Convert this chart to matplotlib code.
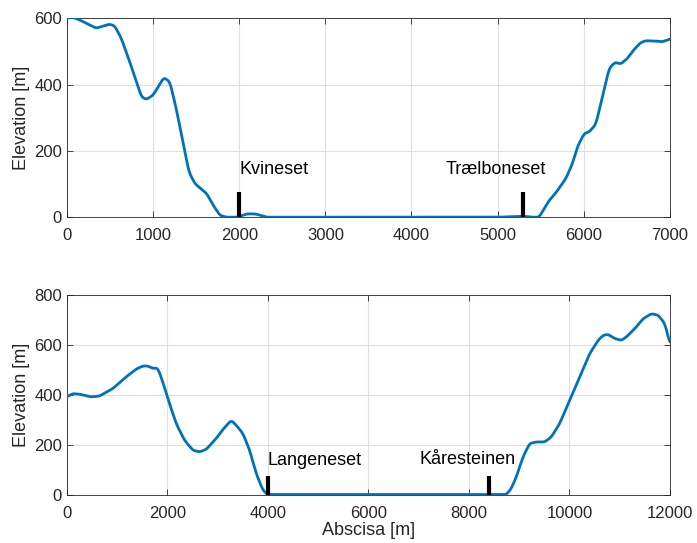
import numpy as np
import matplotlib.pyplot as plt

plt.rcParams['font.family'] = ['Liberation Sans', 'DejaVu Sans']

# upper profile (Kvineset - Trælboneset)
x_top = [0, 66, 144, 339, 494, 553, 630, 728, 825, 864, 922, 1000, 1125, 1195,
         1272, 1350, 1416, 1486, 1623, 1700, 1778, 1856, 1973, 2090, 2187, 2323,
         3000, 4000, 5000, 5200, 5300, 5400, 5481, 5597, 5674, 5791, 5868, 5926,
         6004, 6062, 6140, 6217, 6295, 6364, 6430, 6508, 6585, 6663, 6721, 6837,
         6915, 7000]
z_top = [600, 603, 595, 570, 582, 577, 540, 469, 393, 363, 355, 368, 421, 408,
         323, 222, 136, 101, 71, 35, 5, 0, 0, 10, 10, 0,
         0, 0, 0, 2, 3, 0, 0, 50, 73, 116, 161, 212,
         252, 257, 280, 363, 449, 467, 462, 479, 506, 527, 532, 531,
         529, 537]

# lower profile (Langeneset - Kåresteinen)
x_bot = [0, 113, 246, 478, 645, 910, 1176, 1375, 1508, 1608, 1708, 1807, 1907,
         2040, 2173, 2339, 2505, 2638, 2771, 2970, 3103, 3269, 3369, 3502, 3635,
         3767, 3900, 4000, 6000, 8000, 8744, 8844, 8944, 9076, 9209, 9342, 9508,
         9641, 9807, 10007, 10206, 10405, 10571, 10671, 10771, 10904, 11037,
         11136, 11302, 11468, 11635, 11767, 11900, 12000]
z_bot = [392, 405, 403, 392, 395, 425, 472, 503, 516, 516, 506, 508, 452,
         365, 285, 218, 178, 171, 181, 225, 261, 298, 278, 245, 178,
         84, 17, 0, 0, 0, 0, 24, 71, 151, 205, 211, 211,
         231, 285, 379, 472, 566, 619, 639, 643, 626, 619,
         633, 666, 706, 726, 720, 686, 606]

# place markers: x position, label, label x, label y
marks_top = [(2000, 'Kvineset', 2000, 143), (5300, 'Trælboneset', 4400, 143)]
marks_bot = [(4000, 'Langeneset', 4000, 138), (8400, 'Kåresteinen', 7010, 140)]
mark_h = 75

blue = '#0072BD'
dark = '#262626'


def smooth(x, z, n=700):
    xs = np.linspace(x[0], x[-1], n)
    zs = np.interp(xs, x, z)
    k = np.ones(5) / 5
    pad = np.pad(zs, 2, mode='edge')
    zs = np.convolve(pad, k, mode='valid')
    return xs, zs


def profile(ax, x, z, marks, xmax, ymax, step):
    xs, zs = smooth(x, z)
    ax.plot(xs, zs, color=blue, lw=2, zorder=3)
    for xm, label, tx, ty in marks:
        ax.plot([xm, xm], [0, mark_h], color='black', lw=3, zorder=4,
                solid_capstyle='butt')
        ax.text(tx, ty, label, fontsize=13, va='center', ha='left', color='black')
    ax.set_xlim(0, xmax)
    ax.set_ylim(0, ymax)
    ax.set_yticks(np.arange(0, ymax + 1, step))
    ax.grid(True, color='#dfdfdf', lw=0.8)
    ax.set_axisbelow(True)
    ax.tick_params(direction='in', top=True, right=True, length=4,
                   labelsize=12, colors=dark, width=0.6)
    ax.tick_params(axis='x', pad=8)
    for s in ax.spines.values():
        s.set_color(dark)
        s.set_linewidth(0.6)
    ax.set_ylabel('Elevation [m]', fontsize=13, color=dark, labelpad=3)


fig = plt.figure(figsize=(6.97, 5.43), dpi=100)
ax1 = fig.add_axes([0.0961, 0.600, 0.865, 0.3665])
ax2 = fig.add_axes([0.0961, 0.0893, 0.865, 0.367])

profile(ax1, x_top, z_top, marks_top, 7000, 600, 200)
profile(ax2, x_bot, z_bot, marks_bot, 12000, 800, 200)
ax2.set_xlabel('Abscisa [m]', fontsize=13, color=dark, labelpad=1)

fig.savefig('out.png', dpi=100)
